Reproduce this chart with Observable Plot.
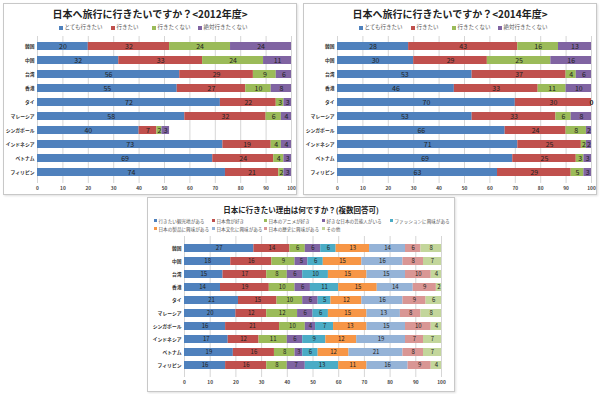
<!DOCTYPE html>
<html><head><meta charset="utf-8">
<script src="https://cdn.jsdelivr.net/npm/d3@7"></script>
<script src="https://cdn.jsdelivr.net/npm/@observablehq/plot@0.6"></script>
<style>
body{margin:0;background:#fff;font-family:'Noto Sans CJK JP',sans-serif;}
#root{position:relative;width:600px;height:394px;overflow:hidden;}
.panel{position:absolute;border:1px solid #c8c8c8;box-sizing:border-box;background:#fff;box-shadow:1px 1px 2px rgba(0,0,0,0.12);}
.panel svg{position:absolute;left:0;top:0;}
.title{position:absolute;left:0;right:0;text-align:center;font-weight:bold;color:#222;white-space:nowrap;line-height:1;}
.leg{position:absolute;white-space:nowrap;color:#555;display:flex;align-items:center;line-height:1;}
.sw{display:inline-block;margin-right:1.5px;}
</style></head>
<body><div id="root"></div>
<script>
const countries = ["韓国","中国","台湾","香港","タイ","マレーシア","シンガポール","インドネシア","ベトナム","フィリピン"];
const wishLevels = ["とても行きたい","行きたい","行きたくない","絶対行きたくない"];
const wishColors = ["#4F81BD","#C0504D","#9BBB59","#8064A2"];

// 2012
const y2012Very = [20,32,56,55,72,58,40,73,69,74];
const y2012Want = [32,33,29,27,22,32,7,19,24,21];
const y2012Not  = [24,24,9,10,3,6,2,4,4,2];
const y2012Never= [24,11,6,8,3,4,3,4,3,3];
// 2014
const y2014Very = [28,30,53,46,70,53,66,71,69,63];
const y2014Want = [43,29,37,33,30,33,24,25,25,29];
const y2014Not  = [16,25,4,11,0,6,8,2,3,5];
const y2014Never= [13,16,6,10,0,8,2,2,3,3];

const reasons = ["行きたい観光地がある","日本食が好き","日本のアニメが好き","好きな日本の芸能人がいる","ファッションに興味がある","日本の製品に興味がある","日本文化に興味がある","日本の歴史に興味がある","その他"];
const reasonColors = ["#4F81BD","#C0504D","#9BBB59","#8064A2","#4BACC6","#F79646","#95B3D7","#D99694","#C3D69B"];
const rSight   = [27,18,15,14,21,20,16,17,19,16];
const rFood    = [14,16,17,19,15,12,21,12,16,16];
const rAnime   = [6,9,8,10,10,12,10,11,8,8];
const rIdol    = [6,5,6,6,6,6,4,6,3,7];
const rFashion = [6,6,10,11,5,6,7,9,6,13];
const rProduct = [13,15,15,15,12,15,13,12,12,11];
const rCulture = [14,16,15,14,16,13,15,19,21,16];
const rHistory = [6,8,10,9,9,8,10,7,8,9];
const rOther   = [8,7,4,2,6,8,4,7,7,4];

const ticks = d3.range(0, 101, 10);
const root = document.getElementById("root");

function tidy(seriesNames, arrays) {
  const out = [];
  countries.forEach((c, i) => {
    seriesNames.forEach((s, k) => out.push({country: c, series: s, value: arrays[k][i]}));
  });
  return out;
}

function panel(opts) {
  const p = document.createElement("div");
  p.className = "panel";
  Object.assign(p.style, {left: opts.left+"px", top: opts.top+"px", width: opts.width+"px", height: opts.height+"px"});
  const data = tidy(opts.series, opts.arrays);
  const chart = Plot.plot({
    width: opts.width - 2, height: opts.height - 2,
    marginLeft: opts.ml, marginRight: opts.mr, marginTop: opts.mt, marginBottom: opts.mb,
    style: {fontFamily: "'Noto Sans CJK JP',sans-serif", background: "transparent", color: "#333"},
    x: {domain: [0, 100], ticks: ticks, label: null, tickSize: 0, tickPadding: 3},
    y: {domain: countries, label: null, tickSize: 0, tickPadding: 4, padding: 0.4},
    color: {domain: opts.series, range: opts.colors},
    marks: [
      Plot.ruleX(ticks, {stroke: "#d6d6d6", strokeWidth: 1}),
      Plot.barX(data, Plot.stackX({x: "value", y: "country", fill: "series", z: "series", order: opts.series})),
      Plot.text(data, Plot.stackX({x: "value", y: "country", z: "series", order: opts.series, text: d => String(d.value), fill: "#222", fontSize: opts.fs})),
      Plot.axisX({ticks: ticks, tickSize: 0, tickPadding: 3, fontSize: 4.8, fontWeight: "bold", fill: "#444"}),
      Plot.axisY({tickSize: 0, tickPadding: 3, fontSize: 4.8, fontWeight: "bold", fill: "#333"})
    ]
  });
  p.appendChild(chart);
  const t = document.createElement("div");
  t.className = "title";
  t.textContent = opts.title;
  Object.assign(t.style, {top: opts.titleTop+"px", fontSize: opts.titleSize+"px"});
  p.appendChild(t);
  opts.legendPos.forEach((pos, k) => {
    const l = document.createElement("div");
    l.className = "leg";
    Object.assign(l.style, {left: pos[0]+"px", top: pos[1]+"px", fontSize: opts.legSize+"px"});
    const sw = document.createElement("span");
    sw.className = "sw";
    Object.assign(sw.style, {width: opts.swSize+"px", height: opts.swSize+"px", background: opts.colors[k]});
    l.appendChild(sw);
    l.appendChild(document.createTextNode(opts.series[k]));
    p.appendChild(l);
  });
  root.appendChild(p);
}

panel({left: 3, top: 3, width: 294, height: 192, ml: 33, mr: 5, mt: 32, mb: 11,
  series: wishLevels, colors: wishColors, arrays: [y2012Very, y2012Want, y2012Not, y2012Never],
  title: "日本へ旅行に行きたいですか？<2012年度>", titleTop: 5, titleSize: 10, fs: 7,
  legendPos: [[55, 21], [107, 21], [148, 21], [194, 21]], legSize: 5.5, swSize: 4});

panel({left: 303, top: 3, width: 294, height: 192, ml: 33, mr: 5, mt: 32, mb: 11,
  series: wishLevels, colors: wishColors, arrays: [y2014Very, y2014Want, y2014Not, y2014Never],
  title: "日本へ旅行に行きたいですか？<2014年度>", titleTop: 5, titleSize: 10, fs: 7,
  legendPos: [[55, 21], [107, 21], [148, 21], [194, 21]], legSize: 5.5, swSize: 4});

panel({left: 147, top: 197, width: 308, height: 195, ml: 36, mr: 13, mt: 38, mb: 14,
  series: reasons, colors: reasonColors, arrays: [rSight, rFood, rAnime, rIdol, rFashion, rProduct, rCulture, rHistory, rOther],
  title: "日本に行きたい理由は何ですか？(複数回答可)", titleTop: 8, titleSize: 7.5, fs: 6,
  legendPos: [[6, 20.5], [64, 20.5], [116, 20.5], [174, 20.5], [242, 20.5], [6, 28.5], [64, 28.5], [116, 28.5], [174, 28.5]], legSize: 4.6, swSize: 3});
</script></body></html>
